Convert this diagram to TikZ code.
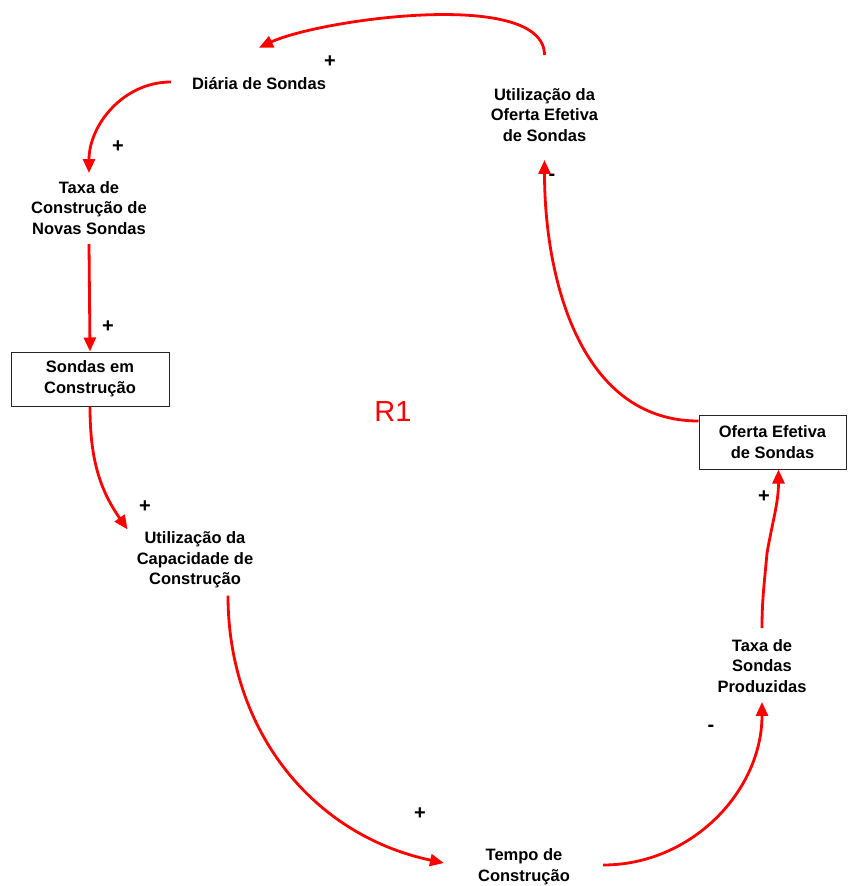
\documentclass[tikz,border=0pt]{standalone}
\usepackage{fontspec}
\setmainfont{Liberation Sans}
\usetikzlibrary{arrows.meta}

\begin{document}
\begin{tikzpicture}[
		x=1pt, y=1pt,
		var/.style ={
			align=center,	inner sep=2pt,
			font=\bfseries\fontsize{16.5}{20.7}\selectfont
		},
		stock/.style ={
			var,	draw=black!85,	line width=1pt,	fill=white
		},
		link/.style={
			draw=red,	line width=2.8pt,
			-{Triangle[length=14pt,width=12pt]}
		},
		sign/.style={
			font=\bfseries\fontsize{20}{20}\selectfont,	inner sep=0pt
		},
	]

	\useasboundingbox (0,0) rectangle (847,-886);

	% nodes
	\node (diaria)    at (259,-84)  [var] {Diária de Sondas};
	\node (taxacon)   at (89,-208)  [var] {Taxa de\\Construção de\\Novas Sondas};
	\node (sondascon) at (90,-379)  [stock, minimum width=158pt, minimum height=54pt] {Sondas em\\Construção};
	\node (utilcap)   at (195,-560) [var] {Utilização da\\Capacidade de\\Construção};
	\node (tempo)     at (524,-867) [var] {Tempo de\\Construção};
	\node (taxaprod)  at (762,-666) [var] {Taxa de\\Sondas\\Produzidas};
	\node (oferta)    at (772.5,-442) [stock, minimum width=147pt, minimum height=54pt] {Oferta Efetiva\\de Sondas};
	\node (utilof)    at (544.5,-115) [var] {Utilização da\\Oferta Efetiva\\de Sondas};

	\node (loop) at (393,-412) [text=red, font=\fontsize{29}{29}\selectfont] {R1};

	% polarities
	\foreach \n/\x/\y/\s in {s1/330/62/+, s2/118/147/+, s3/108/327/+, s4/145/507/+,
			s5/420/814/+, s6/711/728/-, s7/764/497/+, s8/552/177/-}
		\node (\n) at (\x,-\y) [sign] {\s};

	% interconnections
	\draw [link] ([yshift=31pt]utilof.north) to [out=90, in=25, looseness=0.6] ([yshift=28pt]diaria.north);
	\draw [link] ([xshift=-19pt,yshift=2pt]diaria.west) to [out=180, in=90] ([yshift=6pt]taxacon.north);
	\draw [link] ([yshift=-7pt]taxacon.south) -- (sondascon.north);
	\draw [link] (sondascon.south) to [out=270, in=125] ([xshift=-7pt]utilcap.north west);
	\draw [link] ([xshift=33pt,yshift=-5pt]utilcap.south) to [out=270, in=168] ([xshift=-32pt,yshift=4pt]tempo.west);
	\draw [link] ([xshift=31pt,yshift=2pt]tempo.east) to [out=0, in=270] ([yshift=-7pt]taxaprod.south);
	\draw [link] ([yshift=9pt]taxaprod.north) to [out=90, in=265] +(5,75) to [out=80, in=270] ([xshift=6pt]oferta.south);
	\draw [link] ([yshift=21pt]oferta.west) to [out=180, in=270] ([yshift=-16pt]utilof.south);

\end{tikzpicture}
\end{document}
